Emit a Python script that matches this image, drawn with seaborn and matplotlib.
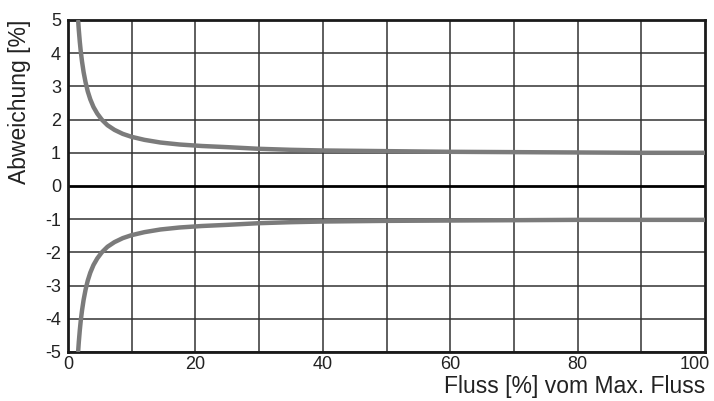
import matplotlib
matplotlib.use("Agg")
import matplotlib.pyplot as plt
import matplotlib.transforms as mtransforms
import seaborn as sns
import pandas as pd

# ----------------------------
# Data
# ----------------------------
flow = [1.6, 1.7, 1.85, 2.0, 2.2, 2.45, 2.75, 3.1, 3.5, 4.0, 4.6, 5.3, 6.2, 7.3, 8.6,
        10, 12, 14.5, 17.5, 21, 25, 30, 35, 40, 50, 60, 70, 80, 90, 100]
upper = [4.96, 4.69, 4.35, 4.06, 3.75, 3.43, 3.13, 2.85, 2.61, 2.38, 2.18, 2.0, 1.83, 1.69, 1.57,
         1.48, 1.39, 1.31, 1.25, 1.205, 1.17, 1.12, 1.09, 1.07, 1.05, 1.03, 1.02, 1.01, 1.0, 1.0]
lower = [-4.96, -4.69, -4.35, -4.06, -3.75, -3.43, -3.13, -2.85, -2.61, -2.38, -2.18, -2.0, -1.83, -1.69, -1.57,
         -1.48, -1.39, -1.31, -1.25, -1.205, -1.17, -1.12, -1.09, -1.07, -1.05, -1.04, -1.03, -1.02, -1.02, -1.02]

x_ticks = [0, 20, 40, 60, 80, 100]
y_ticks = [-5, -4, -3, -2, -1, 0, 1, 2, 3, 4, 5]

df = pd.DataFrame({
    "flow": flow + flow,
    "dev": upper + lower,
    "band": ["upper"] * len(flow) + ["lower"] * len(flow),
})

# ----------------------------
# Plot
# ----------------------------
sns.set_style("white")
plt.rcParams["font.family"] = ["Liberation Sans", "DejaVu Sans"]
plt.rcParams["axes.unicode_minus"] = False

txt = "#222222"

fig = plt.figure(figsize=(7.14, 4.01), dpi=100)
ax = fig.add_axes([68 / 714, 49 / 401, 637 / 714, 332 / 401])

# grid
for gx in range(10, 100, 10):
    ax.axvline(gx, color="#333333", lw=1.1, zorder=1)
for gy in y_ticks:
    if gy == 0:
        ax.axhline(gy, color="black", lw=2.0, zorder=1)
    else:
        ax.axhline(gy, color="#333333", lw=1.1, zorder=1)

sns.lineplot(data=df, x="flow", y="dev", units="band", estimator=None,
             color="#7b7b7b", lw=3.2, ax=ax, zorder=3)

ax.set_xlim(0, 100)
ax.set_ylim(-5, 5)
ax.set_xticks(x_ticks)
ax.set_yticks(y_ticks)
ax.tick_params(length=0, labelsize=13, labelcolor=txt, pad=5)
ax.tick_params(axis="x", pad=3)

# last x label sits a bit left of its grid line, as in the source
last = ax.get_xticklabels()[-1]
last.set_transform(last.get_transform() +
                   mtransforms.ScaledTranslation(-10 / 100, 0, fig.dpi_scale_trans))

for s in ax.spines.values():
    s.set_visible(True)
    s.set_color("#1a1a1a")
    s.set_linewidth(2.0)

ax.set_xlabel("Fluss [%] vom Max. Fluss", fontsize=16.5, color=txt, loc="right", labelpad=1)
ax.set_ylabel("Abweichung [%]", fontsize=16.5, color=txt, loc="top", labelpad=10)

fig.savefig("out.png", dpi=100)
